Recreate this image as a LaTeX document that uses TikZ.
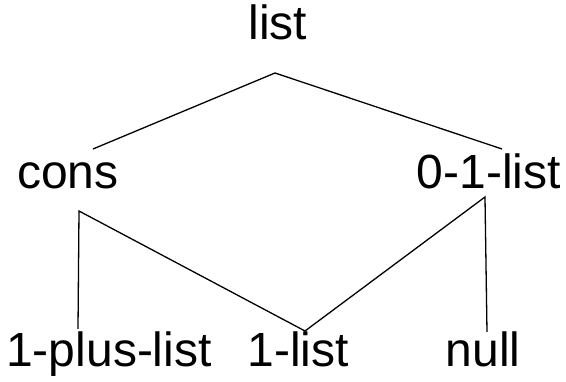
\documentclass[tikz,border=0pt]{standalone}
\usepackage{fontspec}
\setmainfont{Liberation Sans}
\usepackage{tikz}

\begin{document}
\begin{tikzpicture}[x=1pt,y=1pt,
  lbl/.style={anchor=base,inner sep=0pt,font=\fontsize{48}{56}\selectfont},
  edge/.style={line width=1.3pt}]
\useasboundingbox (0,0) rectangle (566,382);
% labels, top row to bottom row
\node[lbl] (list) at (278,342) {list};
\node[lbl] (cons) at (68,193) {cons};
\node[lbl] (zol) at (489,193) {0-1-list};
\node[lbl] (plus) at (109,15) {1-plus-list};
\node[lbl] (one) at (298,15) {1-list};
\node[lbl] (null) at (483,15) {null};
% where the lines meet
\coordinate (list-j) at (275,309);
\coordinate (cons-up) at (93,233);
\coordinate (zol-up) at (502,233);
\coordinate (cons-j) at (79,171);
\coordinate (zol-j) at (485,185);
\coordinate (plus-up) at (78,53);
\coordinate (one-up) at (305,51);
\coordinate (null-up) at (487,50);
\draw[edge] (cons-up) -- (list-j) -- (zol-up);
\draw[edge] (plus-up) -- (cons-j) -- (one-up);
\draw[edge] (one-up) -- (zol-j) -- (null-up);
\end{tikzpicture}
\end{document}
